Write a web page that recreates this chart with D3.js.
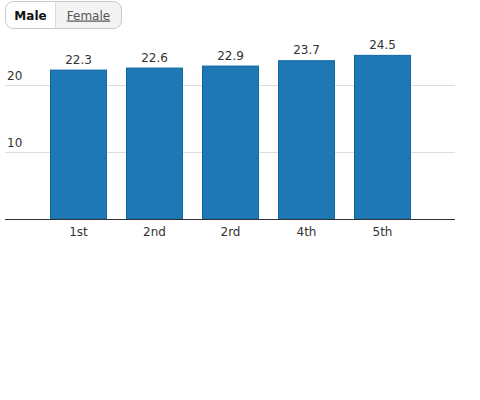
<!DOCTYPE html>
<html>
<head>
<meta charset="utf-8">
<script src="https://cdn.jsdelivr.net/npm/d3@7"></script>
<style>
  body { margin: 0; background: #fff; font-family: "DejaVu Sans", sans-serif; }
</style>
</head>
<body>
<svg id="chart" width="480" height="400"></svg>
<script>
const categories = ["1st", "2nd", "2rd", "4th", "5th"];
const maleValues = [22.3, 22.6, 22.9, 23.7, 24.5];
const yTicks = [10, 20];
const toggleLabels = ["Male", "Female"];

const svg = d3.select("#chart");

// toggle buttons
const btn = svg.append("g").attr("transform", "translate(5.5,1.5)");
btn.append("path")
    .attr("d", "M50,0 H108 a8,8 0 0 1 8,8 V19 a8,8 0 0 1 -8,8 H50 Z")
    .attr("fill", "#f3f3f3");
btn.append("rect")
    .attr("width", 116).attr("height", 27).attr("rx", 8)
    .attr("fill", "none").attr("stroke", "#c8c8c8");
btn.append("line")
    .attr("x1", 50).attr("x2", 50).attr("y1", 0).attr("y2", 27)
    .attr("stroke", "#dcdcdc");
btn.append("text")
    .attr("x", 25).attr("y", 18)
    .attr("text-anchor", "middle")
    .attr("font-size", "12px").attr("font-weight", "bold").attr("fill", "#111")
    .text(toggleLabels[0]);
btn.append("text")
    .attr("x", 83).attr("y", 18)
    .attr("text-anchor", "middle")
    .attr("font-size", "12px").attr("fill", "#555")
    .attr("text-decoration", "underline")
    .text(toggleLabels[1]);

const x = d3.scaleBand()
    .domain(categories)
    .range([40.5, 420.5])
    .paddingInner(0.25)
    .paddingOuter(0.125);

const y = d3.scaleLinear()
    .domain([0, 30])
    .range([219, 18]);

// grid lines + labels
const grid = svg.append("g");
grid.selectAll("line")
    .data(yTicks)
    .enter().append("line")
    .attr("x1", 5).attr("x2", 455)
    .attr("y1", d => Math.round(y(d)) + 0.5)
    .attr("y2", d => Math.round(y(d)) + 0.5)
    .attr("stroke", "#dddddd");
grid.selectAll("text")
    .data(yTicks)
    .enter().append("text")
    .attr("x", 7)
    .attr("y", d => y(d) - 5)
    .attr("font-size", "12px").attr("fill", "#333")
    .text(d => d);

// bars
svg.append("g").selectAll("rect")
    .data(maleValues)
    .enter().append("rect")
    .attr("x", (d, i) => x(categories[i]) + 0.5)
    .attr("y", d => y(d) + 0.5)
    .attr("width", x.bandwidth() - 1)
    .attr("height", d => y(0) - y(d) - 0.5)
    .attr("fill", "#1f77b4")
    .attr("stroke", "#0d68a6");

// value labels
svg.append("g").selectAll("text")
    .data(maleValues)
    .enter().append("text")
    .attr("x", (d, i) => x(categories[i]) + x.bandwidth() / 2)
    .attr("y", d => y(d) - 6)
    .attr("text-anchor", "middle")
    .attr("font-size", "12px").attr("fill", "#333")
    .text(d => d.toFixed(1));

// x axis
const xAxis = svg.append("g")
    .attr("transform", "translate(0,219)")
    .call(d3.axisBottom(x).tickSize(0).tickPadding(8));
xAxis.select(".domain").remove();
xAxis.selectAll("text")
    .attr("font-family", "DejaVu Sans, sans-serif")
    .attr("font-size", "12px").attr("fill", "#333");
svg.append("line")
    .attr("x1", 5).attr("x2", 455)
    .attr("y1", 219.5).attr("y2", 219.5)
    .attr("stroke", "#333");
</script>
</body>
</html>
